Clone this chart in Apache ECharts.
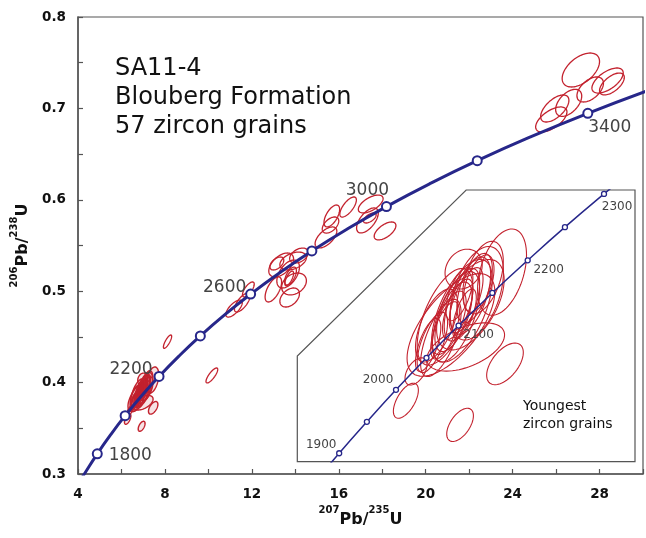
<!DOCTYPE html>
<html><head><meta charset="utf-8">
<script src="https://cdn.jsdelivr.net/npm/echarts@6/dist/echarts.min.js"></script>
<style>html,body{margin:0;padding:0;background:#fff}#c{width:646px;height:538px}</style>
</head><body><div id="c"></div>
<script>
// ---------------- DATA ----------------
// Concordia curve (main panel): age (Ma), 207Pb/235U, 206Pb/238U
const concAges = [1650,1700,1800,1900,2000,2100,2200,2300,2400,2500,2600,2700,2800,2900,3000,3100,3200,3300,3400,3500];
const concX = [4.078,4.335,4.887,5.496,6.169,6.910,7.729,8.633,9.630,10.730,11.944,13.283,14.762,16.393,18.193,20.180,22.372,24.791,27.460,30.405];
const concY = [0.2917,0.3017,0.3221,0.3428,0.3638,0.3851,0.4067,0.4287,0.4511,0.4738,0.4968,0.5202,0.5440,0.5681,0.5926,0.6175,0.6428,0.6685,0.6946,0.7211];
const mainMarkerAges = [1800,2000,2200,2400,2600,2800,3000,3200,3400];
const mainLabelAges = [1800,2200,2600,3000,3400];

// Concordia curve (inset, youngest grains)
const insetAges = [1850,1900,1950,2000,2050,2100,2150,2200,2250,2300,2350];
const insetX = [5.184,5.496,5.824,6.169,6.530,6.910,7.310,7.729,8.170,8.633,9.119];
const insetY = [0.3324,0.3428,0.3532,0.3638,0.3744,0.3851,0.3959,0.4067,0.4177,0.4287,0.4399];
const insetMarkerAges = [1900,1950,2000,2050,2100,2150,2200,2250,2300];
const insetLabelAges = [1900,2000,2100,2200,2300];

// Error ellipses: [207Pb/235U, 206Pb/238U, err x, err y, rho]
const youngGrains = [
  [7.46,0.3724,0.217,0.0069,0.55],
  [6.286,0.3602,0.148,0.0058,0.6],
  [6.928,0.3522,0.158,0.0055,0.55],
  [7.425,0.4028,0.29,0.0143,0.4],
  [7.126,0.3958,0.316,0.0155,0.45],
  [6.82,0.3853,0.52,0.0170,0.65],
  [6.995,0.3780,0.46,0.0080,0.5],
  [6.97,0.4038,0.22,0.0066,0.2],
  [6.65,0.3851,0.25,0.0121,0.6],
  [6.85,0.3880,0.22,0.0115,0.6],
  [6.90,0.3905,0.18,0.0100,0.65],
  [6.95,0.3920,0.21,0.0120,0.6],
  [7.00,0.3935,0.20,0.0108,0.65],
  [6.80,0.3860,0.20,0.0105,0.65],
  [6.75,0.3835,0.17,0.0095,0.65],
  [7.05,0.3950,0.24,0.0128,0.55],
  [6.88,0.3880,0.28,0.0150,0.6],
  [7.10,0.3975,0.21,0.0115,0.55],
  [6.70,0.3810,0.24,0.0128,0.65],
  [6.92,0.3955,0.16,0.0088,0.6],
  [6.60,0.3795,0.18,0.0100,0.65],
  [7.15,0.3990,0.18,0.0095,0.5],
  [6.98,0.3890,0.14,0.0082,0.65],
  [6.55,0.3787,0.15,0.0088,0.65],
  [7.20,0.4010,0.24,0.0120,0.45],
  [6.95,0.3900,0.36,0.0170,0.6],
  [7.05,0.3920,0.40,0.0150,0.55],
  [6.75,0.3880,0.33,0.0160,0.6],
  [6.406,0.3699,0.13,0.0045,0.5]
];
const olderGrains = [
  [8.12,0.4448,0.19,0.0073,0.8],
  [10.16,0.4078,0.27,0.0082,0.8],
  [11.18,0.4810,0.38,0.0093,0.7],
  [11.56,0.4876,0.36,0.0104,0.7],
  [11.84,0.5019,0.27,0.0082,0.7],
  [13.35,0.5287,0.57,0.0131,0.5],
  [13.90,0.5330,0.61,0.0098,0.4],
  [13.67,0.5188,0.52,0.0153,0.5],
  [13.94,0.5079,0.57,0.0120,0.3],
  [13.74,0.4931,0.45,0.0104,0.4],
  [12.99,0.5019,0.38,0.0137,0.6],
  [13.15,0.5303,0.32,0.0071,0.5],
  [13.78,0.5166,0.27,0.0098,0.6],
  [13.72,0.5140,0.20,0.0080,0.7],
  [14.17,0.5390,0.43,0.0082,0.4],
  [15.41,0.5588,0.50,0.0115,0.6],
  [15.68,0.5823,0.36,0.0120,0.6],
  [15.62,0.5724,0.38,0.0088,0.5],
  [16.43,0.5921,0.38,0.0110,0.7],
  [17.47,0.5954,0.57,0.0098,0.6],
  [17.32,0.5774,0.50,0.0137,0.6],
  [18.13,0.5659,0.50,0.0098,0.6],
  [17.43,0.5801,0.29,0.0055,0.6],
  [27.14,0.7420,0.86,0.0186,0.5],
  [27.57,0.7207,0.61,0.0137,0.5],
  [28.37,0.7305,0.72,0.0137,0.6],
  [28.57,0.7267,0.57,0.0120,0.6],
  [25.94,0.6999,0.65,0.0148,0.6],
  [25.78,0.6879,0.72,0.0137,0.6],
  [26.58,0.7061,0.60,0.0148,0.5]
];

const xTickLabels = ['4','8','12','16','20','24','28'];
const yTickLabels = ['0.3','0.4','0.5','0.6','0.7','0.8'];

// ---------------- STYLE / LAYOUT ----------------
const RED = '#c3222e';
const NAVY = '#27278a';
const AXIS = '#555';
const FONT = 'DejaVu Sans';
const mainLabelOffsets = {1800:[33,2],2200:[-28,-7],2600:[-26,-7],3000:[-19,-16],3400:[22,14]};
const insetLabelOffsets = {1900:[-18,-8],2000:[-18,-10],2100:[20,9],2200:[21,10],2300:[13,13]};
const insetFrame = [[5,0.34],[5,0.375],[7,0.43],[9,0.43],[9,0.34]];

function ellipseRenderer(lw, fill){
  return function(params, api){
    const cx=api.value(0), cy=api.value(1), ex=api.value(2), ey=api.value(3), r=api.value(4);
    const s=Math.sqrt(1-r*r), pts=[];
    for(let i=0;i<72;i++){
      const t=i/72*2*Math.PI;
      pts.push(api.coord([cx+ex*Math.cos(t), cy+ey*(r*Math.cos(t)+s*Math.sin(t))]));
    }
    return {type:'polygon', shape:{points:pts}, style:{fill:fill||'none', stroke:RED, lineWidth:lw}};
  };
}

const mainMarkers = mainMarkerAges.map(a=>{
  const i=concAges.indexOf(a);
  const off=mainLabelOffsets[a];
  return {value:[concX[i],concY[i],a], label: mainLabelAges.includes(a)?{show:true, offset:off}:{show:false}};
});
const insetMarkers = insetMarkerAges.map(a=>{
  const i=insetAges.indexOf(a);
  const off=insetLabelOffsets[a];
  return {value:[insetX[i],insetY[i],a], label: insetLabelAges.includes(a)?{show:true, offset:off}:{show:false}};
});

const nameRich = {
  sup:{fontFamily:FONT,fontWeight:'bold',fontSize:10,lineHeight:8,verticalAlign:'top',color:'#111'},
  b:{fontFamily:FONT,fontWeight:'bold',fontSize:16,lineHeight:22,verticalAlign:'bottom',color:'#111'}
};

const chart = echarts.init(document.getElementById('c'), null, {renderer:'canvas'});
chart.setOption({
  animation:false,
  backgroundColor:'#fff',
  grid:[
    {left:78, top:17, right:-6, bottom:64, show:true, borderColor:AXIS, borderWidth:1.2},
    {left:297.3, top:190, right:11, bottom:76.3}
  ],
  xAxis:[
    {type:'value', gridIndex:0, min:4, max:30, interval:2,
     axisLine:{show:true,onZero:false,lineStyle:{color:AXIS,width:1.5}},
     axisTick:{show:true,inside:true,length:5,lineStyle:{color:AXIS,width:1.2}},
     splitLine:{show:false},
     axisLabel:{margin:13,fontFamily:FONT,fontWeight:'bold',fontSize:13.5,color:'#111',
       formatter:v=>{const s=String(Math.round(v*1000)/1000);return xTickLabels.includes(s)?s:'';}},
     name:'{sup|207}{b|Pb/}{sup|235}{b|U}', nameLocation:'middle', nameGap:30,
     nameTextStyle:{rich:nameRich}},
    {type:'value', gridIndex:1, min:5, max:9, show:false}
  ],
  yAxis:[
    {type:'value', gridIndex:0, min:0.3, max:0.8, interval:0.05,
     axisLine:{show:true,onZero:false,lineStyle:{color:AXIS,width:1.5}},
     axisTick:{show:true,inside:true,length:5,lineStyle:{color:AXIS,width:1.2}},
     splitLine:{show:false},
     axisLabel:{margin:12,fontFamily:FONT,fontWeight:'bold',fontSize:13.5,color:'#111',
       formatter:v=>{const s=(Math.round(v*100)/100).toFixed(2).replace(/0$/,'');return yTickLabels.includes(s)?s:'';}},
     name:'{sup|206}{b|Pb/}{sup|238}{b|U}', nameLocation:'middle', nameGap:46,
     nameTextStyle:{rich:nameRich}},
    {type:'value', gridIndex:1, min:0.34, max:0.43, show:false}
  ],
  series:[
    {type:'custom', xAxisIndex:0, yAxisIndex:0, z:2, silent:true, clip:true,
     encode:{x:0,y:1}, renderItem:ellipseRenderer(1.3), data:olderGrains},
    {type:'custom', xAxisIndex:0, yAxisIndex:0, z:2, silent:true, clip:true,
     encode:{x:0,y:1}, renderItem:ellipseRenderer(1.4,'rgba(195,34,46,0.13)'), data:youngGrains},
    {type:'line', xAxisIndex:0, yAxisIndex:0, z:3, silent:true, smooth:true, showSymbol:false, symbol:'none',
     lineStyle:{color:NAVY,width:3}, data:concX.map((x,i)=>[x,concY[i]])},
    {type:'scatter', xAxisIndex:0, yAxisIndex:0, z:4, silent:true, symbol:'circle', symbolSize:9,
     itemStyle:{color:'#fff',borderColor:NAVY,borderWidth:2, opacity:1},
     label:{position:'inside',fontFamily:FONT,fontSize:17,color:'#444',formatter:p=>String(p.value[2])},
     data:mainMarkers},
    {type:'custom', xAxisIndex:1, yAxisIndex:1, z:5, silent:true, clip:false,
     renderItem:(params,api)=>({type:'polygon', shape:{points:insetFrame.map(p=>api.coord(p))},
       style:{fill:'#fff',stroke:AXIS,lineWidth:1.2}}),
     data:[[5,0.34]]},
    {type:'custom', xAxisIndex:1, yAxisIndex:1, z:6, silent:true, clip:true,
     encode:{x:0,y:1}, renderItem:ellipseRenderer(1.1), data:youngGrains},
    {type:'line', xAxisIndex:1, yAxisIndex:1, z:7, silent:true, smooth:true, showSymbol:false, symbol:'none', clip:true,
     lineStyle:{color:NAVY,width:1.5}, data:insetX.map((x,i)=>[x,insetY[i]])},
    {type:'scatter', xAxisIndex:1, yAxisIndex:1, z:8, silent:true, symbol:'circle', symbolSize:5,
     itemStyle:{color:'#fff',borderColor:NAVY,borderWidth:1.3, opacity:1},
     label:{position:'inside',fontFamily:FONT,fontSize:12,color:'#444',formatter:p=>String(p.value[2])},
     data:insetMarkers}
  ],
  graphic:[
    {type:'text', left:115, top:57, z:20, style:{text:'SA11-4', font:'24px "DejaVu Sans"', fill:'#111'}},
    {type:'text', left:115, top:86, z:20, style:{text:'Blouberg Formation', font:'24px "DejaVu Sans"', fill:'#111'}},
    {type:'text', left:115, top:115, z:20, style:{text:'57 zircon grains', font:'24px "DejaVu Sans"', fill:'#111'}},
    {type:'text', left:523, top:399, z:20, style:{text:'Youngest', font:'14px "DejaVu Sans"', fill:'#111'}},
    {type:'text', left:523, top:417, z:20, style:{text:'zircon grains', font:'14px "DejaVu Sans"', fill:'#111'}}
  ]
});
</script></body></html>
